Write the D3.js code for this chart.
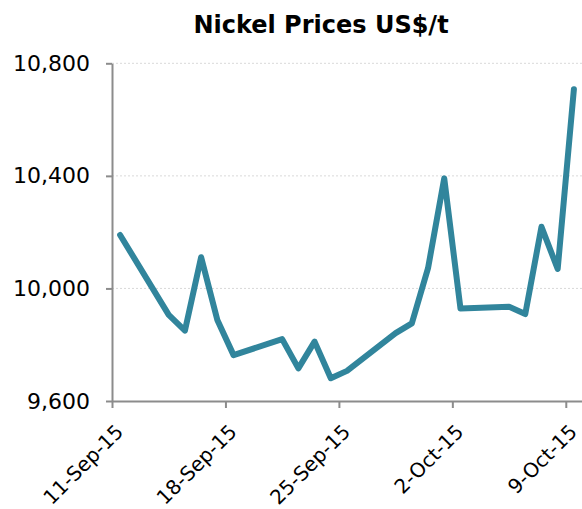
<html>
<title>Nickel Prices</title>
<script src="https://d3js.org/d3.v7.min.js"></script>
<style>
  body { margin: 0; background: white; }
  text { font-family: "DejaVu Sans", sans-serif; }
</style>
<body>
<svg width=582 height=509></svg>
<script>
// LME nickel cash price, US$/t, trading days only
var dates = ["2015-09-11","2015-09-14","2015-09-15","2015-09-16","2015-09-17","2015-09-18",
  "2015-09-21","2015-09-22","2015-09-23","2015-09-24","2015-09-25",
  "2015-09-28","2015-09-29","2015-09-30","2015-10-01","2015-10-02",
  "2015-10-05","2015-10-06","2015-10-07","2015-10-08","2015-10-09"];
var prices = [10190, 9906, 9850, 10111, 9888, 9763,
  9820, 9716, 9811, 9681, 9707,
  9841, 9876, 10072, 10391, 9929,
  9935, 9909, 10219, 10069, 10708];
var yTicks = [9600, 10000, 10400, 10800];
var xTicks = ["2015-09-11","2015-09-18","2015-09-25","2015-10-02","2015-10-09"];

var parse = d3.timeParse("%Y-%m-%d");
var data = dates.map(function(d, i) { return {date: parse(d), value: prices[i]}; });

var plotL = 112, plotR = 582, plotT = 63.3, plotB = 401;
var svg = d3.select("svg");

var xs = d3.scaleTime()
  .domain([parse("2015-09-11"), parse("2015-10-10")])
  .range([plotL, plotR]);
var ys = d3.scaleLinear().domain([9600, 10800]).range([plotB, plotT]);

// points sit in the middle of their day, like a date axis "between tick marks"
function xMid(d) { return xs(d3.timeHour.offset(d, 12)); }

// gridlines
svg.append("g").selectAll("line")
  .data(yTicks.slice(1)).enter().append("line")
  .attr("x1", plotL).attr("x2", plotR)
  .attr("y1", function(d) { return ys(d); })
  .attr("y2", function(d) { return ys(d); })
  .attr("stroke", "#d9d9d9")
  .attr("stroke-width", 1)
  .attr("stroke-dasharray", "2,2");

var yAxis = svg.append("g")
  .attr("transform", "translate(" + plotL + ",0)")
  .call(d3.axisLeft(ys).tickValues(yTicks).tickSize(6).tickSizeOuter(0)
    .tickPadding(16).tickFormat(d3.format(",")));

var xAxis = svg.append("g")
  .attr("transform", "translate(0," + plotB + ")")
  .call(d3.axisBottom(xs).tickValues(xTicks.map(parse)).tickSize(7).tickSizeOuter(0)
    .tickFormat(d3.timeFormat("%-d-%b-%y")));

[yAxis, xAxis].forEach(function(a) {
  a.selectAll("path, line").attr("stroke", "#8c8c8c").attr("stroke-width", 2);
  a.selectAll("text").attr("fill", "#000");
});
yAxis.selectAll("text").style("font-size", "22px");

xAxis.selectAll("text")
  .style("font-size", "20px")
  .attr("text-anchor", "end")
  .attr("dy", null)
  .attr("y", 0)
  .attr("transform", "translate(12,32) rotate(-45)");

svg.append("path")
  .datum(data)
  .attr("fill", "none")
  .attr("stroke", "#31859c")
  .attr("stroke-width", 6)
  .attr("stroke-linejoin", "round")
  .attr("stroke-linecap", "round")
  .attr("d", d3.line()
    .x(function(d) { return xMid(d.date); })
    .y(function(d) { return ys(d.value); }));

svg.append("text")
  .attr("x", 321).attr("y", 33)
  .attr("text-anchor", "middle")
  .attr("font-weight", "bold")
  .style("font-size", "24px")
  .text("Nickel Prices US$/t");
</script>
</body>
</html>
